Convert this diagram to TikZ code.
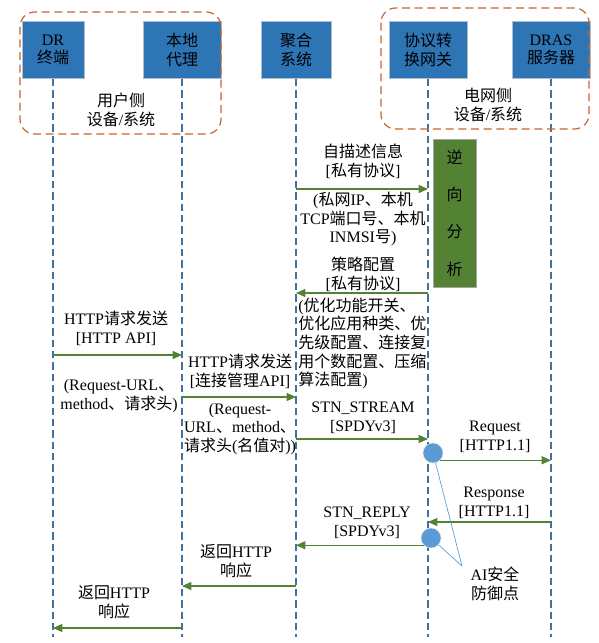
\documentclass[tikz,border=0pt]{standalone}
\usepackage{fontspec}
\usetikzlibrary{arrows.meta}
\setmainfont{Liberation Serif}
\newfontfamily\zhfont{Noto Sans CJK SC}
\newcommand{\zh}[1]{{\zhfont #1}}

\definecolor{boxblue}{RGB}{46,117,182}
\definecolor{boxedge}{RGB}{175,190,205}
\definecolor{lineblue}{RGB}{65,113,156}
\definecolor{arrowgreen}{RGB}{84,130,53}
\definecolor{groupedge}{RGB}{200,100,40}
\definecolor{dotblue}{RGB}{91,155,213}

\tikzset{
  entity/.style={draw=boxedge, fill=boxblue, minimum width=58.5pt, minimum height=43pt, align=center, inner sep=1pt},
  lifeline/.style={draw=lineblue, line width=0.9pt, dash pattern=on 5.5pt off 3pt},
  msg/.style={draw=arrowgreen, line width=0.9pt, -{Triangle[length=7pt,width=6pt]}},
  msgtext/.style={align=center, inner sep=0pt},
  group/.style={draw=groupedge, line width=0.9pt, dash pattern=on 6pt off 3.5pt, rounded corners=11pt},
  defense/.style={circle, fill=dotblue, draw=white!75!gray, minimum size=15pt, inner sep=0pt},
  pointer/.style={draw=dotblue, line width=0.5pt}
}

\begin{document}
\begin{tikzpicture}[x=0.75pt, y=-0.75pt, every node/.append style={font=\fontsize{12}{14}\selectfont}]
\useasboundingbox (0,0) rectangle (599,643);

% devices
\node[entity, minimum width=46.5pt] (dr)    at (53,50)  {DR\\\zh{终端}};
\node[entity]                       (agent) at (182,50) {\zh{本地}\\\zh{代理}};
\node[entity, minimum width=52.5pt] (agg)   at (296,50) {\zh{聚合}\\\zh{系统}};
\node[entity]                       (gw)    at (428,50) {\zh{协议转}\\\zh{换网关}};
\node[entity]                       (dras)  at (551,50) {DRAS\\\zh{服务器}};

% lifelines
\coordinate (bottom) at (0,637);
\foreach \n in {dr,agent,agg,gw,dras}
  \draw[lifeline] (\n.south) -- (\n.south |- bottom);

% user side and grid side
\draw[group] (20,12) rectangle (221,134);
\draw[group] (381,8) rectangle (589,129);
\node[msgtext] (userside) at (121,110) {\zh{用户侧}\\\zh{设备}/\zh{系统}};
\node[msgtext] (gridside) at (488,105) {\zh{电网侧}\\\zh{设备}/\zh{系统}};

% reverse analysis
\node[draw=gray!70, fill=arrowgreen, minimum width=32pt, minimum height=111pt, align=center, font=\fontsize{12}{28}\selectfont] (analysis) at (454.5,213) {\zh{逆}\\\zh{向}\\\zh{分}\\\zh{析}};

% message levels
\coordinate (m1) at (0,189);
\coordinate (m2) at (0,293);
\coordinate (m3) at (0,355);
\coordinate (m4) at (0,397);
\coordinate (m5) at (0,439);
\coordinate (m7) at (0,522);
\coordinate (m9) at (0,586);
\coordinate (m10) at (0,628);

% self description and policy
\draw[msg] (agg |- m1) -- (gw |- m1);
\node[msgtext] (selfdesc) at (363,161) {\zh{自描述信息}\\{[\zh{私有协议}]}};
\node[msgtext] (selfinfo) at (363,219) {(\zh{私网}IP\zh{、本机}\\TCP\zh{端口号、本机}\\INMSI\zh{号})};
\draw[msg] (gw |- m2) -- (agg |- m2);
\node[msgtext] (policy) at (363,274) {\zh{策略配置}\\{[\zh{私有协议}]}};
\node[msgtext, align=left, anchor=west] (policyinfo) at (298,343.5) {(\zh{优化功能开关、}\\\zh{优化应用种类、优}\\\zh{先级配置、连接复}\\\zh{用个数配置、压缩}\\\zh{算法配置})};

% http request
\draw[msg] (dr |- m3) -- (agent |- m3);
\node[msgtext] (req1) at (116,328) {HTTP\zh{请求发送}\\{[HTTP API]}};
\node[msgtext] (req1info) at (119,396) {(Request-URL\zh{、}\\method\zh{、请求头})};
\draw[msg] (agent |- m4) -- (agg |- m4);
\node[msgtext] (req2) at (240,371) {HTTP\zh{请求发送}\\{[\zh{连接管理}API]}};
\node[msgtext] (req2info) at (240,429) {(Request-\\URL\zh{、}method\zh{、}\\\zh{请求头}(\zh{名值对}))};

% stream and request
\draw[msg] (agg |- m5) -- (gw |- m5);
\node[msgtext] (stream) at (363,418) {STN\_STREAM\\{[SPDYv3]}};
\node[defense] (c1) at (433,453) {};
\draw[msg] (c1.-45) -- (dras |- c1.-45);
\node[msgtext] (request) at (495,437) {Request\\{[HTTP1.1]}};

% response and reply
\draw[msg] (dras |- m7) -- (gw |- m7);
\node[msgtext] (response) at (494,503) {Response\\{[HTTP1.1]}};
\node[defense] (c2) at (431,538) {};
\draw[msg] (c2.225) -- (agg |- c2.225);
\node[msgtext] (reply) at (367,523) {STN\_REPLY\\{[SPDYv3]}};
\draw[msg] (agg |- m9) -- (agent |- m9);
\node[msgtext] (back1) at (236,561) {\zh{返回}HTTP\\\zh{响应}};
\draw[msg] (agent |- m10) -- (dr |- m10);
\node[msgtext] (back2) at (114,602) {\zh{返回}HTTP\\\zh{响应}};

% defense points
\node[msgtext] (ai) at (495,584) {AI\zh{安全}\\\zh{防御点}};
\coordinate (aitip) at (462,566);
\draw[pointer] (c1) -- (aitip);
\draw[pointer] (c2) -- (aitip);

\end{tikzpicture}
\end{document}
